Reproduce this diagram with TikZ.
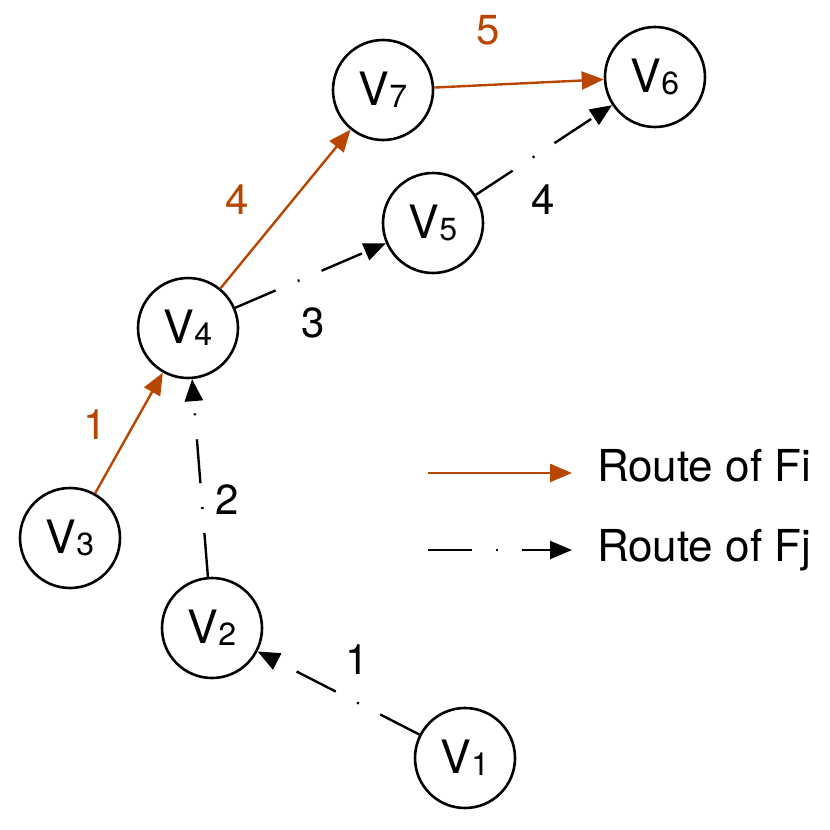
\documentclass[tikz,border=0pt]{standalone}
\usepackage{fontspec}
\setmainfont{TeX Gyre Heros}
\usetikzlibrary{arrows.meta}
\definecolor{routeorange}{RGB}{184,69,0}
\newcommand{\vname}[1]{V{\fontsize{16}{16}\selectfont\raisebox{-1pt}{#1}}}

\begin{document}
\begin{tikzpicture}[x=0.5pt,y=-0.5pt,
    vertex/.style={draw, circle, line width=1.3pt, minimum size=50pt, inner sep=0pt, font=\fontsize{23}{23}\selectfont},
    fi/.style={routeorange, line width=1.2pt, -{Triangle[length=11pt,width=9pt]}},
    fj/.style={black, line width=1.2pt, dash pattern=on 22pt off 12pt on 1pt off 12pt, -{Triangle[length=11pt,width=9pt]}},
    lab/.style={font=\fontsize{21}{21}\selectfont}]
    \useasboundingbox (0,0) rectangle (830,830);
    % vertices
    \node[vertex] (v7) at (383,90) {\vname{7}};
    \node[vertex] (v6) at (655,77) {\vname{6}};
    \node[vertex] (v5) at (433,223) {\vname{5}};
    \node[vertex] (v4) at (188,328) {\vname{4}};
    \node[vertex] (v3) at (70,538) {\vname{3}};
    \node[vertex] (v2) at (212,628) {\vname{2}};
    \node[vertex] (v1) at (465,758) {\vname{1}};
    % route of Fi
    \draw[fi] (v3) -- (v4);
    \draw[fi] (v4) -- (v7);
    \draw[fi] (v7) -- (v6);
    \node[lab, routeorange] (fi1) at (95,425) {1};
    \node[lab, routeorange] (fi4) at (237,200) {4};
    \node[lab, routeorange] (fi5) at (488,30) {5};
    % route of Fj
    \draw[fj] (v1) -- (v2);
    \draw[fj] (v2) -- (v4);
    \draw[fj] (v4) -- (v5);
    \draw[fj] (v5) -- (v6);
    \node[lab] (fj1) at (357,660) {1};
    \node[lab] (fj2) at (227,500) {2};
    \node[lab] (fj3) at (313,323) {3};
    \node[lab] (fj4) at (543,200) {4};
    % legend
    \coordinate (lgi1) at (428,473);
    \coordinate (lgi2) at (572,473);
    \coordinate (lgj1) at (428,550);
    \coordinate (lgj2) at (572,550);
    \draw[fi] (lgi1) -- (lgi2);
    \draw[fj] (lgj1) -- (lgj2);
    \node[lab, anchor=west, font=\fontsize{22}{22}\selectfont] (lgit) at (590,466) {Route of Fi};
    \node[lab, anchor=west, font=\fontsize{22}{22}\selectfont] (lgjt) at (590,550) {Route of Fj};
\end{tikzpicture}
\end{document}
